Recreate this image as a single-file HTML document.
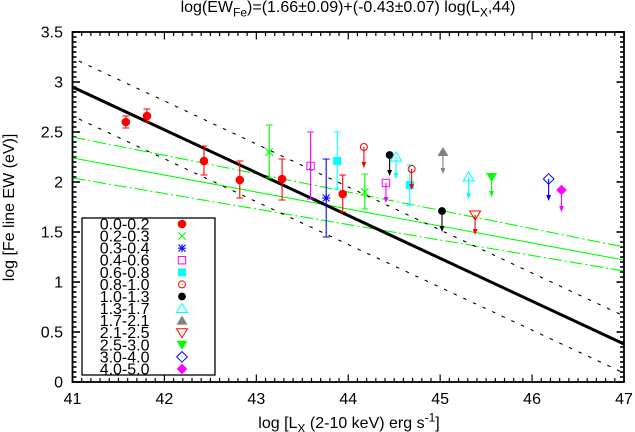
<!DOCTYPE html>
<html lang="en">
<head>
<meta charset="utf-8">
<title>Fe line EW vs LX</title>
<style>
html,body{margin:0;padding:0;background:#fff;width:635px;height:432px;overflow:hidden}
svg{display:block;font-family:"Liberation Sans",sans-serif;fill:#000;filter:blur(0.3px)}
text{fill:#000}
</style>
</head>
<body>
<svg id="chart" width="635" height="432" viewBox="0 0 635 432" xmlns="http://www.w3.org/2000/svg">
<text x="348" y="12" font-size="16" text-anchor="middle">log(EW<tspan font-size="12" dy="4.5">Fe</tspan><tspan dy="-4.5">)=(1.66±0.09)+(-0.43±0.07) log(L</tspan><tspan font-size="12" dy="4.5">X</tspan><tspan dy="-4.5">,44)</tspan></text>
<text x="349" y="428" font-size="16" text-anchor="middle">log [L<tspan font-size="12" dy="4.5">X</tspan><tspan dy="-4.5"> (2-10 keV) erg s</tspan><tspan font-size="12" dy="-6.5">-1</tspan><tspan dy="6.5">]</tspan></text>
<text transform="translate(14,207.5) rotate(-90)" font-size="16" text-anchor="middle">log [Fe line EW (eV)]</text>
</svg>
<script>
const xTickValues = [41, 42, 43, 44, 45, 46, 47];
const yTickValues = [0, 0.5, 1, 1.5, 2, 2.5, 3, 3.5];
const yTickLabels = ["0", "0.5", "1", "1.5", "2", "2.5", "3", "3.5"];

const fitX = [41, 47];
const fitMain = [2.95, 0.38];
const fitMainUpper = [3.24, 0.66];
const fitMainLower = [2.66, 0.09];
const fitGreen = [2.24, 1.22];
const fitGreenUpper = [2.45, 1.35];
const fitGreenLower = [2.04, 1.11];

const binLabels = ["0.0-0.2", "0.2-0.3", "0.3-0.4", "0.4-0.6", "0.6-0.8", "0.8-1.0", "1.0-1.3", "1.3-1.7", "1.7-2.1", "2.1-2.5", "2.5-3.0", "3.0-4.0", "4.0-5.0"];

const detectionBin = [0, 0, 0, 0, 0, 0, 1, 1, 2, 3, 4, 4];
const detectionX = [41.58, 41.81, 42.43, 42.82, 43.28, 43.94, 43.14, 44.18, 43.76, 43.59, 43.88, 44.67];
const detectionY = [2.60, 2.66, 2.21, 2.02, 2.03, 1.88, 2.30, 1.90, 1.84, 2.16, 2.21, 1.97];
const detectionHigh = [2.66, 2.73, 2.36, 2.21, 2.23, 2.07, 2.57, 2.08, 2.23, 2.50, 2.50, 2.17];
const detectionLow = [2.54, 2.60, 2.07, 1.84, 1.82, 1.70, 2.04, 1.73, 1.45, 1.83, 1.93, 1.77];

const limitBin = [3, 5, 5, 6, 6, 7, 7, 8, 9, 10, 11, 12];
const limitX = [44.41, 44.17, 44.69, 44.45, 45.02, 44.52, 45.31, 45.03, 45.38, 45.56, 46.18, 46.32];
const limitY = [1.99, 2.35, 2.13, 2.27, 1.71, 2.25, 2.05, 2.30, 1.67, 2.05, 2.03, 1.92];
const limitEnd = [1.79, 2.14, 1.92, 2.06, 1.50, 2.03, 1.83, 2.08, 1.47, 1.85, 1.81, 1.70];

const svg = document.getElementById('chart');
const NS = 'http://www.w3.org/2000/svg';
const plotL = 72.5, plotR = 624, plotT = 32, plotB = 382;
function sx(v) { return plotL + (v - 41) / 6 * (plotR - plotL); }
function sy(v) { return plotB - v / 3.5 * (plotB - plotT); }
const binColors = ['#ff0000', '#00ff00', '#0000ff', '#ff00ff', '#00ffff', '#ff0000', '#000000', '#00ffff', '#808080', '#ff0000', '#00ff00', '#0000ff', '#ff00ff'];
const binShapes = ['circleF', 'cross', 'star', 'squareO', 'squareF', 'circleO', 'circleS', 'triO', 'triF', 'downO', 'downF', 'diaO', 'diaF'];

function make(tag, attrs, parent) {
  const e = document.createElementNS(NS, tag);
  for (const k in attrs) e.setAttribute(k, attrs[k]);
  (parent || svg).appendChild(e);
  return e;
}
function line(x1, y1, x2, y2, color, w, parent) {
  return make('line', { x1: x1, y1: y1, x2: x2, y2: y2, stroke: color, 'stroke-width': w }, parent);
}
function centerDot(g, x, y, c) {
  make('rect', { x: x - 0.5, y: y - 0.5, width: 1, height: 1, fill: c, opacity: 0.6 }, g);
}
function drawMarker(g, bin, x, y) {
  const c = binColors[bin], s = binShapes[bin];
  const o = { fill: 'none', stroke: c, 'stroke-width': 1 };
  const f = { fill: c, stroke: 'none' };
  if (s === 'circleF') make('circle', Object.assign({ cx: x, cy: y, r: 4.3 }, f), g);
  if (s === 'circleS') make('circle', Object.assign({ cx: x, cy: y, r: 3.9 }, f), g);
  if (s === 'circleO') { make('circle', Object.assign({ cx: x, cy: y, r: 3.5 }, o), g); centerDot(g, x, y, c); }
  if (s === 'cross') { line(x - 3.7, y - 3.7, x + 3.7, y + 3.7, c, 1.1, g); line(x - 3.7, y + 3.7, x + 3.7, y - 3.7, c, 1.1, g); }
  if (s === 'star') { line(x - 3.5, y - 3.5, x + 3.5, y + 3.5, c, 1.1, g); line(x - 3.5, y + 3.5, x + 3.5, y - 3.5, c, 1.1, g); line(x, y - 4, x, y + 4, c, 1.1, g); line(x - 4, y, x + 4, y, c, 1.1, g); }
  if (s === 'squareO') { make('rect', Object.assign({ x: x - 3.7, y: y - 3.7, width: 7.4, height: 7.4 }, o), g); centerDot(g, x, y, c); }
  if (s === 'squareF') make('rect', Object.assign({ x: x - 4, y: y - 4, width: 8, height: 8 }, f), g);
  if (s === 'triO' || s === 'triF') {
    const p = (x - 5.5) + ',' + (y + 4) + ' ' + (x + 5.5) + ',' + (y + 4) + ' ' + x + ',' + (y - 5);
    make('polygon', Object.assign({ points: p }, s === 'triO' ? o : f), g);
    if (s === 'triO') centerDot(g, x, y, c);
  }
  if (s === 'downO' || s === 'downF') {
    const p = (x - 5.5) + ',' + (y - 4) + ' ' + (x + 5.5) + ',' + (y - 4) + ' ' + x + ',' + (y + 5);
    make('polygon', Object.assign({ points: p }, s === 'downO' ? o : f), g);
    if (s === 'downO') centerDot(g, x, y, c);
  }
  if (s === 'diaO' || s === 'diaF') {
    const p = (x - 5.3) + ',' + y + ' ' + x + ',' + (y - 5.3) + ' ' + (x + 5.3) + ',' + y + ' ' + x + ',' + (y + 5.3);
    make('polygon', Object.assign({ points: p }, s === 'diaO' ? o : f), g);
    if (s === 'diaO') centerDot(g, x, y, c);
  }
}

/* ticks */
const xMinorCount = 10;
for (let i = 0; i < xTickValues.length - 1; i++) {
  for (let j = 1; j < xMinorCount; j++) {
    const v = xTickValues[i] + j * (xTickValues[i + 1] - xTickValues[i]) / xMinorCount;
    const b = line(sx(v), plotB, sx(v), plotB - 4, '#000', 1.2);
    
    
    const t = line(sx(v), plotT, sx(v), plotT + 4, '#000', 1.2);
    
    
  }
}
xTickValues.forEach(function (v) {
  const b = line(sx(v), plotB, sx(v), plotB - 7.5, '#000', 1.2);
  
  
  const t = line(sx(v), plotT, sx(v), plotT + 7.5, '#000', 1.2);
  
  
  const lab = make('text', { x: sx(v), y: 404, 'font-size': 16, 'text-anchor': 'middle' });
  lab.textContent = String(v);
  
  
});
const yMinorCount = 10;
for (let i = 0; i < yTickValues.length - 1; i++) {
  for (let j = 1; j < yMinorCount; j++) {
    const v = yTickValues[i] + j * (yTickValues[i + 1] - yTickValues[i]) / yMinorCount;
    const l = line(plotL, sy(v), plotL + 4, sy(v), '#000', 1.6);
    
    
    const r = line(plotR, sy(v), plotR - 4, sy(v), '#000', 1.6);
    
    
  }
}
yTickValues.forEach(function (v, i) {
  const l = line(plotL, sy(v), plotL + 7.5, sy(v), '#000', 1.6);
  
  
  const r = line(plotR, sy(v), plotR - 7.5, sy(v), '#000', 1.6);
  
  
  const lab = make('text', { x: 63, y: sy(v) + 5.4, 'font-size': 16, 'text-anchor': 'end' });
  lab.textContent = yTickLabels[i];
  
  
});

/* fit lines */
const gFitGreen = make('line', { x1: sx(fitX[0]), y1: sy(fitGreen[0]), x2: sx(fitX[1]), y2: sy(fitGreen[1]), stroke: '#00ff00', 'stroke-width': 1.1 });


const gFitUp = make('line', { x1: sx(fitX[0]), y1: sy(fitGreenUpper[0]), x2: sx(fitX[1]), y2: sy(fitGreenUpper[1]), stroke: '#00ff00', 'stroke-width': 1.1, 'stroke-dasharray': '13 3 2 3' });


const gFitLow = make('line', { x1: sx(fitX[0]), y1: sy(fitGreenLower[0]), x2: sx(fitX[1]), y2: sy(fitGreenLower[1]), stroke: '#00ff00', 'stroke-width': 1.1, 'stroke-dasharray': '13 3 2 3' });


const bFitUp = make('line', { x1: sx(fitX[0]), y1: sy(fitMainUpper[0]), x2: sx(fitX[1]), y2: sy(fitMainUpper[1]), stroke: '#000', 'stroke-width': 1.1, 'stroke-dasharray': '3.5 7.1', 'stroke-dashoffset': 3.5 });


const bFitLow = make('line', { x1: sx(fitX[0]), y1: sy(fitMainLower[0]), x2: sx(fitX[1]), y2: sy(fitMainLower[1]), stroke: '#000', 'stroke-width': 1.1, 'stroke-dasharray': '3.5 7.1', 'stroke-dashoffset': 3.5 });


const bFit = make('line', { x1: sx(fitX[0]), y1: sy(fitMain[0]), x2: sx(fitX[1]), y2: sy(fitMain[1]), stroke: '#000', 'stroke-width': 3 });



/* detections with error bars */
detectionX.forEach(function (xv, i) {
  const g = make('g', {});
  
  
  const bin = detectionBin[i], c = binColors[bin], x = sx(xv);
  const hi = sy(detectionHigh[i]), lo = sy(detectionLow[i]);
  line(x, hi, x, lo, c, 1.1, g);
  line(x - 3.5, hi, x + 3.5, hi, c, 1, g);
  line(x - 3.5, lo, x + 3.5, lo, c, 1, g);
  drawMarker(g, bin, x, sy(detectionY[i]));
});

/* upper limits with arrows */
limitX.forEach(function (xv, i) {
  const g = make('g', {});
  
  
  const bin = limitBin[i], c = binColors[bin], x = sx(xv);
  const y0 = sy(limitY[i]), y1 = sy(limitEnd[i]);
  line(x, y0, x, y1 - 4, c, 1.1, g);
  make('polygon', { points: (x - 2.4) + ',' + (y1 - 6) + ' ' + (x + 2.4) + ',' + (y1 - 6) + ' ' + x + ',' + y1, fill: c }, g);
  drawMarker(g, bin, x, y0);
});

/* legend */
const legendBox = make('rect', { x: 82, y: 218, width: 133, height: 157, fill: 'none', stroke: '#000', 'stroke-width': 1.3 });


binLabels.forEach(function (label, i) {
  const y = 224 + i * 12.08;
  const g = make('g', {});
  
  
  const t = make('text', { x: 124.6, y: y + 5.5, 'font-size': 16, 'text-anchor': 'middle' }, g);
  t.textContent = label;
  drawMarker(g, i, 182, y);
});

/* border */
const frame = make('rect', { x: plotL, y: plotT, width: plotR - plotL, height: plotB - plotT, fill: 'none', stroke: '#000', 'stroke-width': 1.8 });


</script>
</body>
</html>
